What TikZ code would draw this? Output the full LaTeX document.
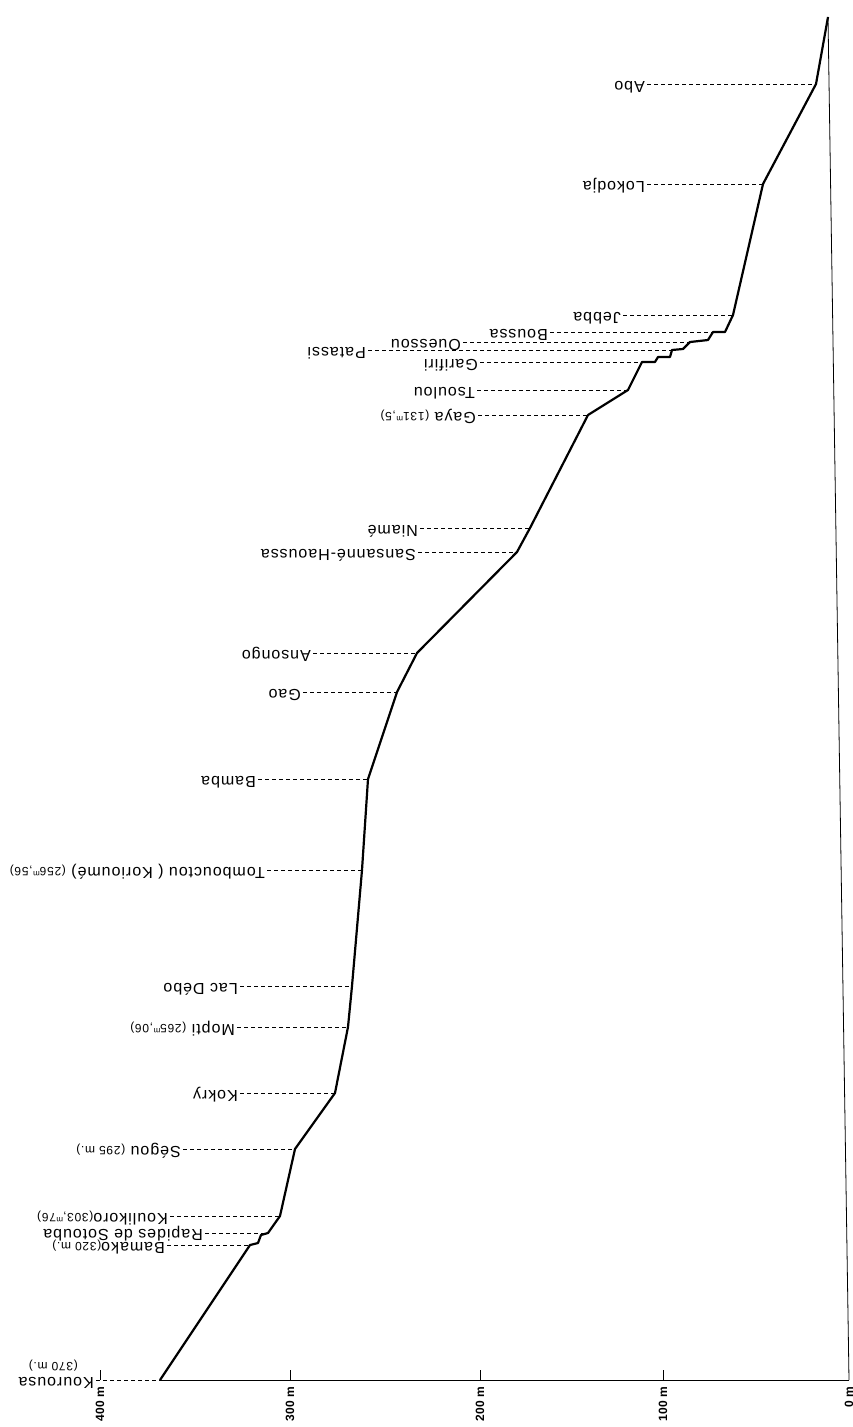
\documentclass[tikz,border=0pt]{standalone}
\usepackage{fontspec}
\setmainfont{Liberation Sans}
\newfontfamily\lettrage{Liberation Sans}[LetterSpace=6.0]
\usetikzlibrary{positioning}

\newcommand{\altm}[1]{{\fontsize{12}{14}\selectfont #1}}

\begin{document}
\begin{tikzpicture}[x=1pt,y=-1pt,
    station/.style={rotate=180,anchor=base west,inner sep=2pt,font=\lettrage\fontsize{16}{18}\selectfont},
    leader/.style={dash pattern=on 4pt off 3pt,line width=0.8pt},
    profile/.style={line width=2.2pt,line join=round},
    graduation/.style={rotate=90,anchor=east,inner sep=1pt,font=\bfseries\fontsize{12}{12}\selectfont}]
  \useasboundingbox (0,0) rectangle (853,1427);

  % Stations along the river
  \coordinate (kourousa) at (160,1380);
  \coordinate (bamako) at (250,1245);
  \coordinate (sotouba) at (268,1233);
  \coordinate (koulikoro) at (280,1216);
  \coordinate (segou) at (295,1149);
  \coordinate (kokry) at (335,1093);
  \coordinate (mopti) at (348,1027);
  \coordinate (debo) at (352,986);
  \coordinate (tombouctou) at (362,870);
  \coordinate (bamba) at (368,779);
  \coordinate (gao) at (397,692);
  \coordinate (ansongo) at (417,653);
  \coordinate (sansanne) at (517,552);
  \coordinate (niame) at (530,528);
  \coordinate (gaya) at (588,415);
  \coordinate (tsoulou) at (628,390);
  \coordinate (garifiri) at (642,362);
  \coordinate (patassi) at (672,350);
  \coordinate (ouessou) at (690,342);
  \coordinate (boussa) at (713,332);
  \coordinate (jebba) at (733,315);
  \coordinate (lokodja) at (763,184);
  \coordinate (abo) at (816,84);
  \coordinate (source) at (828,17);

  % Axis
  \coordinate (t400) at (100,1380);
  \coordinate (t300) at (290,1380);
  \coordinate (t200) at (480,1380);
  \coordinate (t100) at (663,1380);
  \coordinate (t0) at (849,1380);
  \draw[line width=1pt] (kourousa) -- (t0);
  \draw[line width=0.8pt] (t0) -- (source);
  \draw[line width=1pt] (t400) -- ++(0,-10);
  \draw[line width=1pt] (t300) -- ++(0,-10);
  \draw[line width=1pt] (t200) -- ++(0,-10);
  \draw[line width=1pt] (t100) -- ++(0,-10);
  \node[graduation] (g400) at (100,1386) {400 m};
  \node[graduation] (g300) at (290,1386) {300 m};
  \node[graduation] (g200) at (480,1386) {200 m};
  \node[graduation] (g100) at (663,1386) {100 m};
  \node[graduation] (g0) at (849,1386) {0 m};

  % Profile
  \draw[profile] (kourousa) -- (bamako) -- (258,1243) -- (261,1235) -- (sotouba)
    -- (koulikoro) -- (segou) -- (kokry) -- (mopti) -- (debo) -- (tombouctou)
    -- (bamba) -- (gao) -- (ansongo) -- (sansanne) -- (niame) -- (gaya)
    -- (tsoulou) -- (garifiri) -- (655,362) -- (658,357) -- (670,357)
    -- (patassi) -- (683,349) -- (ouessou) -- (708,340) -- (boussa)
    -- (725,332) -- (jebba) -- (lokodja) -- (abo) -- (source);

  % Labels (upside down, baseline just above the leader)
  \node[station] (lkourousa) at (96,1377) {Kourousa};
  \node[station] (lkourousa2) at (80,1362) {\altm{(370 m.)}};
  \node[station] (lbamako) at (167,1242) {Bamako\altm{(320 m.)}};
  \node[station] (lsotouba) at (205,1229) {Rapides de Sotouba};
  \node[station] (lkoulikoro) at (170,1213) {Koulikoro\altm{(303,\textsuperscript{m}76)}};
  \node[station] (lsegou) at (183,1146) {Ségou \altm{(295 m.)}};
  \node[station] (lkokry) at (240,1090) {Kokry};
  \node[station] (lmopti) at (237,1024) {Mopti \altm{(265\textsuperscript{m},06)}};
  \node[station] (ldebo) at (240,983) {Lac Débo};
  \node[station] (ltombouctou) at (267,867) {Tombouctou ( Korioumé) \altm{(256\textsuperscript{m},56)}};
  \node[station] (lbamba) at (258,776) {Bamba};
  \node[station] (lgao) at (303,689) {Gao};
  \node[station] (lansongo) at (313,650) {Ansongo};
  \node[station] (lsansanne) at (418,549) {Sansanné-Haoussa};
  \node[station] (lniame) at (420,525) {Niamé};
  \node[station] (lgaya) at (478,412) {Gaya \altm{(131\textsuperscript{m},5)}};
  \node[station] (ltsoulou) at (477,387) {Tsoulou};
  \node[station] (lgarifiri) at (480,359) {Garifiri};
  \node[station] (lpatassi) at (368,347) {Patassi};
  \node[station] (louessou) at (463,339) {Ouessou};
  \node[station] (lboussa) at (550,329) {Boussa};
  \node[station] (ljebba) at (623,312) {Jebba};
  \node[station] (llokodja) at (647,181) {Lokodja};
  \node[station] (labo) at (647,81) {Abo};

  % Leaders
  \draw[leader] (kourousa -| lkourousa.west) -- (kourousa);
  \draw[leader] (bamako -| lbamako.west) -- (bamako);
  \draw[leader] (sotouba -| lsotouba.west) -- (sotouba);
  \draw[leader] (koulikoro -| lkoulikoro.west) -- (koulikoro);
  \draw[leader] (segou -| lsegou.west) -- (segou);
  \draw[leader] (kokry -| lkokry.west) -- (kokry);
  \draw[leader] (mopti -| lmopti.west) -- (mopti);
  \draw[leader] (debo -| ldebo.west) -- (debo);
  \draw[leader] (tombouctou -| ltombouctou.west) -- (tombouctou);
  \draw[leader] (bamba -| lbamba.west) -- (bamba);
  \draw[leader] (gao -| lgao.west) -- (gao);
  \draw[leader] (ansongo -| lansongo.west) -- (ansongo);
  \draw[leader] (sansanne -| lsansanne.west) -- (sansanne);
  \draw[leader] (niame -| lniame.west) -- (niame);
  \draw[leader] (gaya -| lgaya.west) -- (gaya);
  \draw[leader] (tsoulou -| ltsoulou.west) -- (tsoulou);
  \draw[leader] (garifiri -| lgarifiri.west) -- (garifiri);
  \draw[leader] (patassi -| lpatassi.west) -- (patassi);
  \draw[leader] (ouessou -| louessou.west) -- (ouessou);
  \draw[leader] (boussa -| lboussa.west) -- (boussa);
  \draw[leader] (jebba -| ljebba.west) -- (jebba);
  \draw[leader] (lokodja -| llokodja.west) -- (lokodja);
  \draw[leader] (abo -| labo.west) -- (abo);
\end{tikzpicture}
\end{document}
